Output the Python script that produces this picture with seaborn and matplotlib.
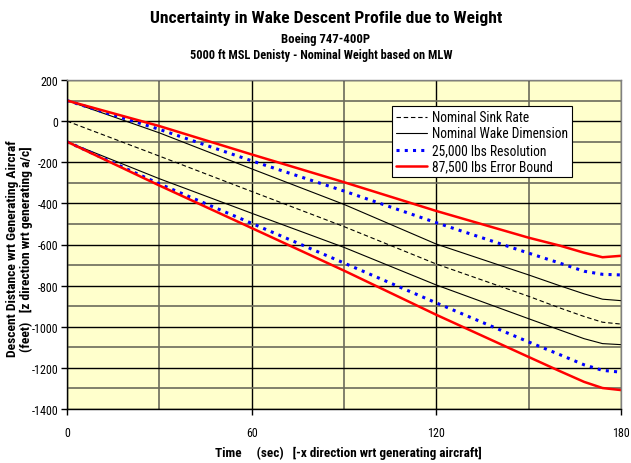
import matplotlib
matplotlib.use("Agg")
import matplotlib.pyplot as plt
import seaborn as sns
import numpy as np
import pandas as pd
from matplotlib.ticker import MultipleLocator
from matplotlib import font_manager

# ---- data ----
time_s = [0, 30, 60, 90, 120, 150, 160, 168, 174, 180]

nominal_sink = [0, -170, -342, -513, -695, -852, -908, -950, -978, -987]
wake_upper = [100, -57, -232, -405, -598, -748, -800, -840, -866, -873]
wake_lower = [-100, -280, -448, -614, -797, -961, -1015, -1058, -1082, -1087]
res25k_upper = [100, -40, -193, -340, -494, -642, -690, -730, -745, -748]
res25k_lower = [-100, -305, -497, -690, -884, -1074, -1135, -1185, -1212, -1221]
err87k_upper = [100, -24, -162, -297, -437, -567, -605, -640, -662, -655]
err87k_lower = [-100, -313, -520, -727, -942, -1147, -1215, -1268, -1298, -1308]

title = "Uncertainty in Wake Descent Profile due to Weight"
subtitle1 = "Boeing 747-400P"
subtitle2 = "5000 ft MSL Denisty - Nominal Weight based on MLW"
xlabel = "Time     (sec)   [-x direction wrt generating aircraft]"
ylabel_line1 = "Descent Distance wrt Generating Aircraf"
ylabel_line2 = "(feet)   [z direction wrt generating a/c]"
legend_labels = ["Nominal Sink Rate", "Nominal Wake Dimension",
                 "25,000 lbs Resolution", "87,500 lbs Error Bound"]

sns.set_theme(style="white")
names = {f.name for f in font_manager.fontManager.ttflist}
narrow = None
for cand in ["Liberation Sans Narrow", "Arial Narrow", "Roboto Condensed",
             "Open Sans Condensed"]:
    if cand in names:
        narrow = cand
        break
fam = [narrow, 'Liberation Sans', 'DejaVu Sans'] if narrow else ['Liberation Sans', 'DejaVu Sans']
plt.rcParams['font.family'] = fam
plt.rcParams['axes.unicode_minus'] = False
plt.rcParams['text.color'] = 'black'
plt.rcParams['axes.labelcolor'] = 'black'
plt.rcParams['xtick.color'] = 'black'
plt.rcParams['ytick.color'] = 'black'

fig = plt.figure(figsize=(6.31, 4.64), dpi=100)
ax = fig.add_axes([67/631, 1 - 410/464, (621 - 67)/631, (410 - 81)/464])
ax.set_facecolor("#FFFFCC")

ax.set_xlim(0, 180)
ax.set_ylim(-1400, 200)
ax.xaxis.set_major_locator(MultipleLocator(60))
ax.xaxis.set_minor_locator(MultipleLocator(30))
ax.yaxis.set_major_locator(MultipleLocator(200))
ax.yaxis.set_minor_locator(MultipleLocator(100))
ax.grid(True, which="major", color="black", linewidth=1.0)
ax.grid(True, which="minor", color="#6b6b5a", linewidth=1.2)
ax.set_axisbelow(True)

lw_thin = 0.8
blue_style = (0, (1.0, 1.7))
sns.lineplot(x=time_s, y=nominal_sink, ax=ax, color="black", linewidth=0.8,
             linestyle=(0, (4, 2.5)), label=legend_labels[0])
sns.lineplot(x=time_s, y=wake_upper, ax=ax, color="black", linewidth=lw_thin,
             label=legend_labels[1])
sns.lineplot(x=time_s, y=wake_lower, ax=ax, color="black", linewidth=lw_thin)
sns.lineplot(x=time_s, y=res25k_upper, ax=ax, color="#0000FF", linewidth=2.2,
             linestyle=blue_style, label=legend_labels[2])
sns.lineplot(x=time_s, y=res25k_lower, ax=ax, color="#0000FF", linewidth=2.2,
             linestyle=blue_style)
sns.lineplot(x=time_s, y=err87k_upper, ax=ax, color="#FF0000", linewidth=1.8,
             label=legend_labels[3])
sns.lineplot(x=time_s, y=err87k_lower, ax=ax, color="#FF0000", linewidth=1.8)

for s in ["left", "bottom"]:
    ax.spines[s].set_color("black")
    ax.spines[s].set_linewidth(1.0)
for s in ["top", "right"]:
    ax.spines[s].set_color("#808080")
    ax.spines[s].set_linewidth(1.0)

ax.tick_params(axis="both", which="major", direction="out", length=4,
               width=1, color="black", labelsize=9, pad=2,
               bottom=True, left=True)
ax.tick_params(axis="x", which="major", pad=8)
ax.tick_params(axis="both", which="minor", length=0)
ax.set_xticks([0, 60, 120, 180])
ax.set_xticklabels(["0", "60", "120", "180"])

H = 464
t_title = fig.text(326/631, 1 - 18/H, title, ha="center", va="center",
                   fontsize=10.7, fontweight="bold")
t_sub1 = fig.text(326/631, 1 - 40/H, subtitle1, ha="center", va="center",
                  fontsize=8.5, fontweight="bold")
t_sub2 = fig.text(321/631, 1 - 56/H, subtitle2, ha="center", va="center",
                  fontsize=7, fontweight="bold")
t_xl = fig.text(348/631, 1 - 453/H, xlabel, ha="center", va="center",
                fontsize=8.5, fontweight="bold")
t_yl1 = fig.text(13/631, 1 - 249/H, ylabel_line1, ha="center", va="center",
                 rotation=90, fontsize=9.7, fontweight="bold")
t_yl2 = fig.text(26/631, 1 - 249/H, ylabel_line2, ha="center", va="center",
                 rotation=90, fontsize=9.7, fontweight="bold")

leg = ax.legend(loc="upper left", bbox_to_anchor=((392 - 67)/554, 1 - (107 - 81)/329),
                frameon=True, fancybox=False, framealpha=1, edgecolor="black",
                fontsize=8.5, handlelength=2.6, handletextpad=0.4,
                borderpad=0.35, labelspacing=0.2, borderaxespad=0)
leg.get_frame().set_linewidth(0.8)

# fit text sizes to the reference's measured extents (pixels)
fig.canvas.draw()
r = fig.canvas.get_renderer()
def fit(t, target, vertical=False):
    bb = t.get_window_extent(r)
    cur = bb.height if vertical else bb.width
    t.set_fontsize(t.get_fontsize() * target / cur)

fit(t_title, 352)
fit(t_sub1, 88)
fit(t_sub2, 262)
fit(t_xl, 266)
lt = leg.get_texts()[1]
bb = lt.get_window_extent(r)
for t in leg.get_texts():
    t.set_fontsize(t.get_fontsize() * 136 / bb.width)
# y tick label "-1400" about 27 px wide in the reference
yl = [t for t in ax.get_yticklabels() if t.get_text() == "-1400"]
if yl:
    w = yl[0].get_window_extent(r).width
    ax.tick_params(axis="both", which="major", labelsize=9 * 27 / w)

fig.savefig("out.png", dpi=100)
